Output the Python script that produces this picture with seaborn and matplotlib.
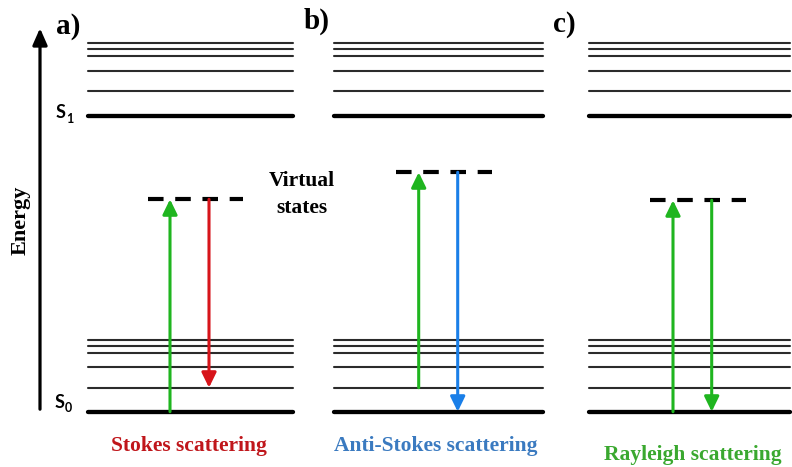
import numpy as np
import pandas as pd
import matplotlib
matplotlib.use("Agg")
import matplotlib.pyplot as plt
import seaborn as sns

sns.set_style("white")
plt.rcParams["lines.scale_dashes"] = False
plt.rcParams["text.color"] = "black"

# Energy scale: ground state S0 at 0 (arbitrary units)
panels = ["a", "b", "c"]
panel_x_start = [88, 334, 589]
panel_x_end = [293, 543, 790]

ground_manifold = [0, 24, 44.4, 59, 65.7, 71.7]          # S0 vibrational levels
excited_manifold = [295.7, 321, 341, 355.7, 362.4, 368.4]  # S1 vibrational levels

virtual_level = [212.4, 239.4, 211.4]
virtual_x_start = [148, 396, 650]
virtual_x_end = [243, 492, 746]

# transitions: (x position, start energy, end energy, colour)
up_x = [170, 418.7, 673]
up_from = [0, 24, 0]
down_x = [209, 457.7, 711.7]
down_to = [24, 0, 0]
down_colors = ["#d7141a", "#1a7fe8", "#1fb51f"]
up_color = "#1fb51f"

panel_labels = ["a)", "b)", "c)"]
panel_label_x = [68, 317, 564]
panel_label_E = [385.7, 390.7, 387.7]

process_names = ["Stokes scattering", "Anti-Stokes scattering", "Rayleigh scattering"]
process_colors = ["#c0161b", "#3a7ac0", "#3aa82f"]
process_x = [188.5, 435.5, 693]
process_E = [-34, -34, -43]

# long table of level segments
rows = []
seg = 0
for p, x0, x1 in zip(panels, panel_x_start, panel_x_end):
    for i, e in enumerate(ground_manifold + excited_manifold):
        kind = "thick" if e in (ground_manifold[0], excited_manifold[0]) else "thin"
        for x in (x0, x1):
            rows.append({"panel": p, "seg": seg, "x": x, "E": e, "kind": kind})
        seg += 1
levels = pd.DataFrame(rows)

fig = plt.figure(figsize=(7.92, 4.67), dpi=100)
ax = fig.add_axes([0, 0, 1, 1])
ax.set_xlim(0, 792)
ax.set_ylim(-55.3, 411.7)
ax.axis("off")

thin = levels[levels.kind == "thin"]
thick = levels[levels.kind == "thick"]
sns.lineplot(data=thin, x="x", y="E", units="seg", estimator=None, sort=False,
             color="#2b2b2b", lw=1.5, ax=ax, legend=False)
sns.lineplot(data=thick, x="x", y="E", units="seg", estimator=None, sort=False,
             color="black", lw=3.1, ax=ax, legend=False)

# virtual states (dashed)
for e, x0, x1 in zip(virtual_level, virtual_x_start, virtual_x_end):
    ax.plot([x0, x1], [e, e], color="black", lw=3.0, dashes=(11.2, 8.4),
            solid_capstyle="butt", dash_capstyle="butt")

arrow_kw = dict(arrowstyle="-|>,head_length=0.45,head_width=0.22", lw=2.2,
                shrinkA=0, shrinkB=0, mutation_scale=20)
for i in range(3):
    ax.annotate("", xy=(up_x[i], virtual_level[i]), xytext=(up_x[i], up_from[i]),
                arrowprops=dict(color=up_color, **arrow_kw))
    ax.annotate("", xy=(down_x[i], down_to[i]), xytext=(down_x[i], virtual_level[i]),
                arrowprops=dict(color=down_colors[i], **arrow_kw))

# energy axis
ax.annotate("", xy=(40, 383.5), xytext=(40, 2.5),
            arrowprops=dict(arrowstyle="-|>,head_length=0.5,head_width=0.22",
                            lw=2.3, color="black", shrinkA=0, shrinkB=0,
                            mutation_scale=20))
serif = "Liberation Serif"
ax.text(21, 191, "Energy", rotation=90, ha="center", va="center",
        family=serif, fontweight="bold", fontsize=16)

for lab, x, e in zip(panel_labels, panel_label_x, panel_label_E):
    ax.text(x, e, lab, ha="center", va="center", family=serif,
            fontweight="bold", fontsize=21)

ax.text(302, 230.5, "Virtual", ha="center", va="center", family=serif,
        fontweight="bold", fontsize=15.5)
ax.text(302, 203.5, "states", ha="center", va="center", family=serif,
        fontweight="bold", fontsize=15.5)

for name, c, x, e in zip(process_names, process_colors, process_x, process_E):
    ax.text(x, e, name, ha="center", va="center", family=serif,
            fontweight="bold", fontsize=15.5, color=c)

# state labels
sans = "Lato"
ax.text(60.5, 299, "S", ha="center", va="center", family=sans,
        fontweight="bold", fontsize=13)
ax.text(69.5, 293, "1", ha="center", va="center", family=sans,
        fontweight="bold", fontsize=9)
ax.text(59.5, 9, "S", ha="center", va="center", family=sans,
        fontweight="bold", fontsize=13)
ax.text(68.5, 3.5, "0", ha="center", va="center", family=sans,
        fontweight="bold", fontsize=9)

fig.savefig("out.png", dpi=100)
